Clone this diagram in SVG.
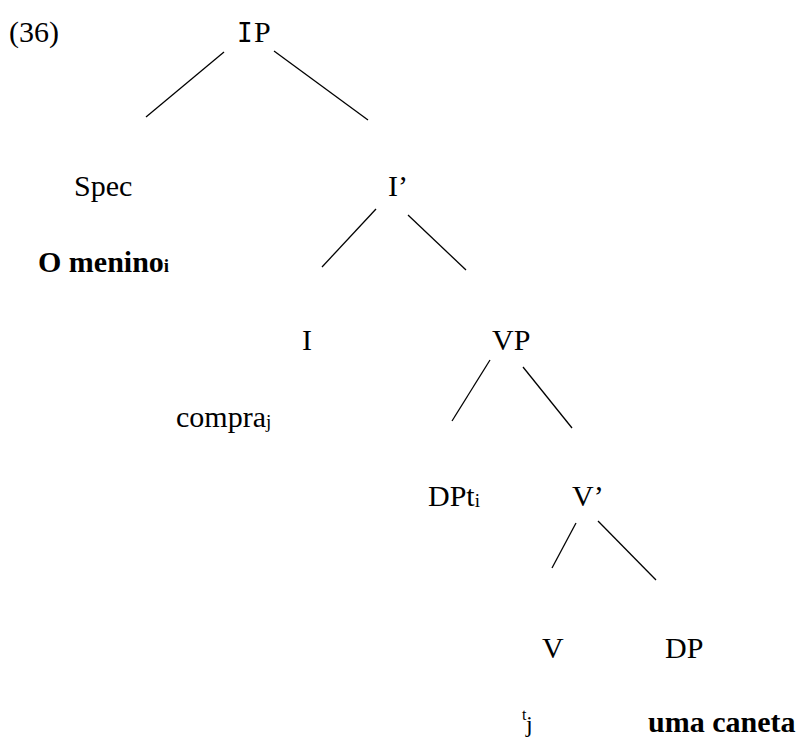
<svg xmlns="http://www.w3.org/2000/svg" width="810" height="740" viewBox="0 0 810 740">
<style>
.t{font-family:'Liberation Serif','Times New Roman',serif;font-size:30px;fill:#000}
.b{font-weight:bold}
.sub{font-size:19px}
.mono{font-family:'DejaVu Sans Mono',monospace;font-size:26px}
#edges line{stroke:#000;stroke-width:1.3}
</style>
<rect width="810" height="740" fill="#fff"/>
<text id="ex" class="t" x="9" y="42">(36)</text>
<g id="edges">
<line x1="224" y1="52" x2="146" y2="117"/>
<line x1="274" y1="51" x2="368" y2="120"/>
<line x1="376" y1="209" x2="322" y2="267"/>
<line x1="408" y1="215" x2="466" y2="270"/>
<line x1="490" y1="360" x2="452" y2="421"/>
<line x1="523" y1="367" x2="572" y2="428"/>
<line x1="576" y1="523" x2="552" y2="568"/>
<line x1="598" y1="521" x2="656" y2="580"/>
</g>
<g id="n-IP"><text class="t" y="42"><tspan class="mono" x="237">I</tspan><tspan x="254">P</tspan></text></g>
<g id="n-Spec"><text class="t" x="74" y="196">Spec</text></g>
<g id="n-Ibar"><text class="t" x="388" y="196">I’</text></g>
<g id="n-menino"><text class="t b" x="38" y="272">O menino<tspan class="sub">i</tspan></text></g>
<g id="n-I"><text class="t" x="302" y="350">I</text></g>
<g id="n-VP"><text class="t" x="492" y="350">VP</text></g>
<g id="n-compra"><text class="t" x="176" y="427">compra<tspan class="sub" dy="1">j</tspan></text></g>
<g id="n-DPt"><text class="t" x="428" y="506">DPt<tspan class="sub" dy="1">i</tspan></text></g>
<g id="n-Vbar"><text class="t" x="572" y="506">V’</text></g>
<g id="n-V"><text class="t" x="542" y="658">V</text></g>
<g id="n-DP"><text class="t" x="665" y="658">DP</text></g>
<g id="n-tj"><text class="t" x="522" y="720" style="font-size:16px">t</text><text class="t" x="526" y="732" style="font-size:24px">j</text></g>
<g id="n-caneta"><text class="t b" x="648" y="732">uma caneta</text></g>
</svg>
